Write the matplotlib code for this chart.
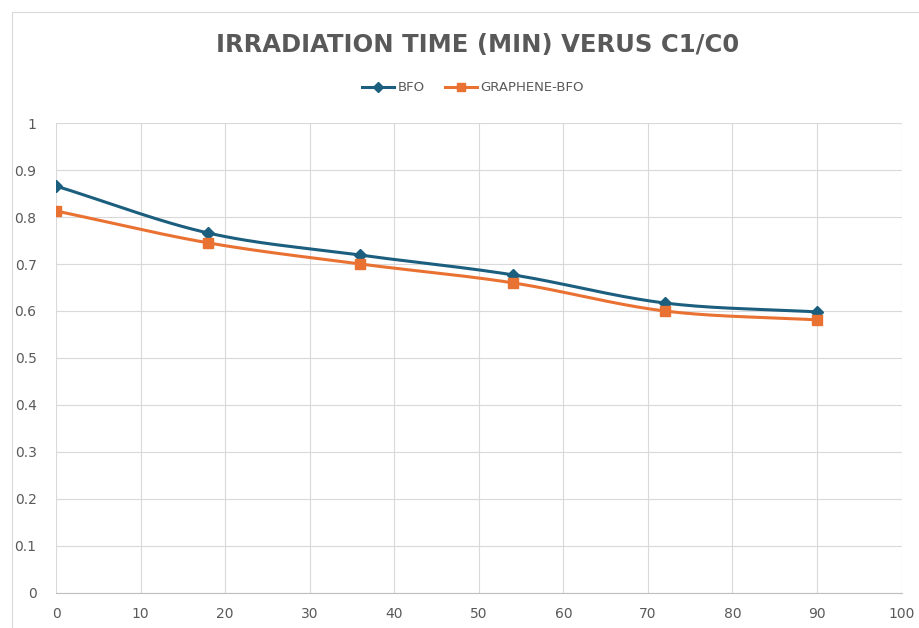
import numpy as np
import matplotlib.pyplot as plt
from matplotlib.patches import Rectangle

# data
time_min = [0, 18, 36, 54, 72, 90]
bfo = [0.866, 0.766, 0.719, 0.677, 0.617, 0.598]
graphene_bfo = [0.813, 0.745, 0.700, 0.660, 0.600, 0.581]

x_ticks = [0, 10, 20, 30, 40, 50, 60, 70, 80, 90, 100]
y_ticks = [0, 0.1, 0.2, 0.3, 0.4, 0.5, 0.6, 0.7, 0.8, 0.9, 1]
y_labels = ['0', '0.1', '0.2', '0.3', '0.4', '0.5', '0.6', '0.7', '0.8', '0.9', '1']


def smooth(x, y, n=30):
    """Catmull-Rom curve through the points, like Excel's smoothed line."""
    x = np.asarray(x, float)
    y = np.asarray(y, float)
    px = np.concatenate([[2 * x[0] - x[1]], x, [2 * x[-1] - x[-2]]])
    py = np.concatenate([[2 * y[0] - y[1]], y, [2 * y[-1] - y[-2]]])
    xs, ys = [], []
    t = np.linspace(0, 1, n)
    for i in range(1, len(px) - 2):
        for p, out in ((px, xs), (py, ys)):
            p0, p1, p2, p3 = p[i - 1], p[i], p[i + 1], p[i + 2]
            out.extend(0.5 * ((2 * p1) + (-p0 + p2) * t
                              + (2 * p0 - 5 * p1 + 4 * p2 - p3) * t ** 2
                              + (-p0 + 3 * p1 - 3 * p2 + p3) * t ** 3))
    return np.array(xs), np.array(ys)


text_color = '#595959'
blue = '#1B5E7E'
orange = '#E97132'

fig = plt.figure(figsize=(9.19, 6.28), dpi=100)
fig.patches.append(Rectangle((12 / 919, -0.01), 1.0, 1 - 12 / 628 + 0.01,
                             transform=fig.transFigure, fill=False,
                             edgecolor='#D9D9D9', linewidth=0.8))

ax = fig.add_axes([0.061, 0.056, 0.920, 0.748])

sx, sy = smooth(time_min, bfo)
ax.plot(sx, sy, color=blue, linewidth=2.2, zorder=3)
ax.plot(time_min, bfo, linestyle='none', marker='D', markersize=6,
        color=blue, zorder=4)
sx, sy = smooth(time_min, graphene_bfo)
ax.plot(sx, sy, color=orange, linewidth=2.2, zorder=3)
ax.plot(time_min, graphene_bfo, linestyle='none', marker='s', markersize=7,
        color=orange, zorder=4)

ax.set_xlim(0, 100)
ax.set_ylim(0, 1)
ax.set_xticks(x_ticks)
ax.set_yticks(y_ticks)
ax.set_yticklabels(y_labels)
ax.grid(True, color='#D9D9D9', linewidth=0.8)
ax.set_axisbelow(True)
for side in ['left', 'right', 'top']:
    ax.spines[side].set_visible(False)
ax.spines['bottom'].set_color('#BFBFBF')
ax.tick_params(length=0, labelsize=10, colors=text_color, pad=10)
ax.tick_params(axis='y', pad=14)

fig.text(0.520, 0.928, 'IRRADIATION TIME (MIN) VERUS C1/C0', ha='center',
         va='center', fontsize=17.5, fontweight='bold', color=text_color)

# legend
h1, = ax.plot([], [], color=blue, linewidth=2.2, marker='D', markersize=5)
h2, = ax.plot([], [], color=orange, linewidth=2.2, marker='s', markersize=6)
fig.legend([h1, h2], ['BFO', 'GRAPHENE-BFO'], loc='center',
           bbox_to_anchor=(0.515, 0.86), ncol=2, frameon=False,
           fontsize=9.5, labelcolor=text_color, handlelength=2.4,
           columnspacing=1.5, handletextpad=0.3)

fig.savefig('out.png', dpi=100)
